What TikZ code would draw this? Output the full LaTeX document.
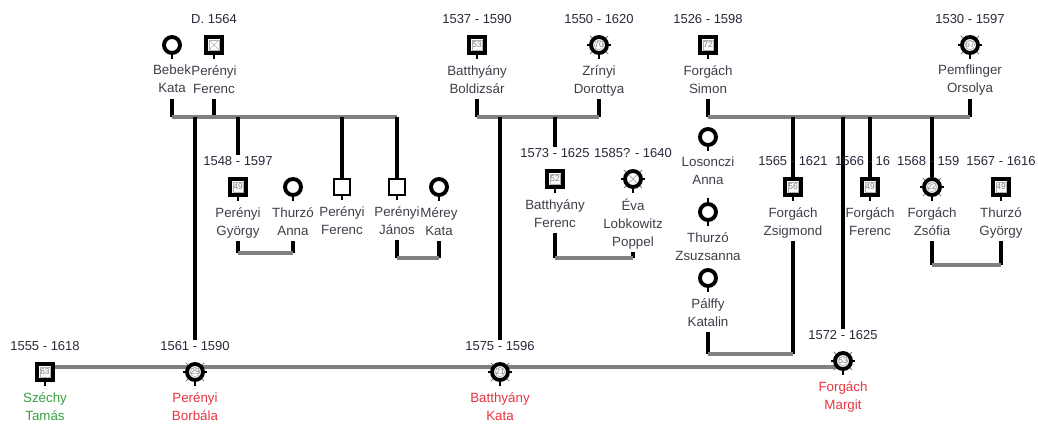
\documentclass[tikz,border=0pt]{standalone}
\usepackage{fontspec}
\setmainfont{Liberation Sans}
\usetikzlibrary{positioning, backgrounds}

\definecolor{namegray}{RGB}{62,62,74}
\definecolor{dategray}{RGB}{40,40,58}
\definecolor{bargray}{RGB}{128,128,128}
\definecolor{heirred}{RGB}{232,52,64}
\definecolor{heirgreen}{RGB}{56,158,64}

\begin{document}
\begin{tikzpicture}[
        x=0.02cm, y=-0.02cm,
        node distance=0.2cm,
        male/.style={rectangle, draw, fill=white, line width=2.2pt, minimum size=0.32cm, inner sep=0pt, text=gray, font=\fontsize{4.8}{5}\selectfont},
        female/.style={circle, draw, fill=white, line width=2.2pt, minimum size=0.32cm, inner sep=0pt, text=gray, font=\fontsize{4.8}{5}\selectfont},
        pname/.style={align=center, inner sep=0pt, text=namegray, font=\fontsize{7.6}{10.2}\selectfont, execute at begin node=\strut, execute at end node=\strut},
        pdate/.style={inner sep=0.5pt, text=dategray, font=\fontsize{7.4}{9}\selectfont}
    ]

    \tikzset{
    inbox/.style={line width=0.35pt, gray!60},
    kid/.style={line width=2pt, black},
    bar/.style={line width=1.9pt, bargray},
    stub/.style={line width=1.4pt},
    tick/.style={line width=0.45pt, gray},
    nub/.style={line width=1.4pt}
}

    \useasboundingbox (0,0) rectangle (1038,426);

    \coordinate (topBar) at (0,117);
    \coordinate (perBar) at (0,253);
    \coordinate (janBar) at (0,258);
    \coordinate (evaBar) at (0,258);
    \coordinate (thuBar) at (0,265);
    \coordinate (palBar) at (0,354);
    \coordinate (mainBar) at (0,367);

    \node[female] (bebek) at (172,45) {};
    \node[pname, below=of bebek] (bebekN) {Bebek\\Kata};
    \node[male] (pferenc) at (214,45) {};
    \node[pdate, above=of pferenc] (pferencD) {D. 1564};
    \node[pname, below=of pferenc] (pferencN) {Perényi\\Ferenc};

    \node[male] (bbold) at (477,45) {53};
    \node[pdate, above=of bbold] (bboldD) {1537 - 1590};
    \node[pname, below=of bbold] (bboldN) {Batthyány\\Boldizsár};
    \node[female] (zrinyi) at (599,45) {70};
    \node[pdate, above=of zrinyi] (zrinyiD) {1550 - 1620};
    \node[pname, below=of zrinyi] (zrinyiN) {Zrínyi\\Dorottya};

    \node[male] (fsimon) at (708,45) {72};
    \node[pdate, above=of fsimon] (fsimonD) {1526 - 1598};
    \node[pname, below=of fsimon] (fsimonN) {Forgách\\Simon};
    \node[female] (pemfl) at (970,45) {67};
    \node[pdate, above=of pemfl] (pemflD) {1530 - 1597};
    \node[pname, below=of pemfl] (pemflN) {Pemflinger\\Orsolya};

    \node[male] (pgyorgy) at (238,187) {49};
    \node[pdate, above=of pgyorgy] (pgyorgyD) {1548 - 1597};
    \node[pname, below=of pgyorgy] (pgyorgyN) {Perényi\\György};
    \node[female] (tanna) at (293,187) {};
    \node[pname, below=of tanna] (tannaN) {Thurzó\\Anna};
    \node[male, line width=1.5pt] (pferenc2) at (342,187) {};
    \node[pname, below=of pferenc2] (pferenc2N) {Perényi\\Ferenc};
    \node[male, line width=1.5pt] (pjanos) at (397,187) {};
    \node[pname, below=of pjanos] (pjanosN) {Perényi\\János};
    \node[female] (merey) at (439,187) {};
    \node[pname, below=of merey] (mereyN) {Mérey\\Kata};

    \node[male] (bferenc) at (555,179) {52};
    \node[pdate, above=of bferenc] (bferencD) {1573 - 1625};
    \node[pname, below=of bferenc] (bferencN) {Batthyány\\Ferenc};
    \node[female] (eva) at (633,179) {};
    \node[pdate, above=of eva] (evaD) {1585? - 1640};
    \node[pname, below=of eva] (evaN) {Éva\\Lobkowitz\\Poppel};

    \node[female] (losonczi) at (708,137) {};
    \node[pname, below=of losonczi] (losoncziN) {Losonczi\\Anna};
    \node[female] (zsuzsa) at (708,212) {};
    \node[pname, below=of zsuzsa] (zsuzsaN) {Thurzó\\Zsuzsanna};
    \node[female] (palffy) at (708,278) {};
    \node[pname, below=of palffy] (palffyN) {Pálffy\\Katalin};

    \node[male] (zsigmond) at (793,187) {56};
    \node[pdate, above=of zsigmond] (zsigmondD) {1565 - 1621};
    \node[pname, below=of zsigmond] (zsigmondN) {Forgách\\Zsigmond};
    \node[male] (fferenc) at (870,187) {49};
    \node[pdate, above=of fferenc, xshift=-0.146cm] (fferencD) {1566 - 16};
    \node[pname, below=of fferenc] (fferencN) {Forgách\\Ferenc};
    \node[female] (zsofia) at (932,187) {22};
    \node[pdate, above=of zsofia, xshift=-0.074cm] (zsofiaD) {1568 - 159};
    \node[pname, below=of zsofia] (zsofiaN) {Forgách\\Zsófia};
    \node[male] (tgyorgy) at (1001,187) {49};
    \node[pdate, above=of tgyorgy] (tgyorgyD) {1567 - 1616};
    \node[pname, below=of tgyorgy] (tgyorgyN) {Thurzó\\György};

    \node[male] (szechy) at (45,372) {63};
    \node[pdate, above=of szechy] (szechyD) {1555 - 1618};
    \node[pname, below=of szechy, text=heirgreen] (szechyN) {Széchy\\Tamás};
    \node[female] (borbala) at (195,372) {29};
    \node[pdate, above=of borbala] (borbalaD) {1561 - 1590};
    \node[pname, below=of borbala, text=heirred] (borbalaN) {Perényi\\Borbála};
    \node[female] (bkata) at (500,372) {21};
    \node[pdate, above=of bkata] (bkataD) {1575 - 1596};
    \node[pname, below=of bkata, text=heirred] (bkataN) {Batthyány\\Kata};
    \node[female] (margit) at (843,361) {53};
    \node[pdate, above=of margit] (margitD) {1572 - 1625};
    \node[pname, below=of margit, text=heirred] (margitN) {Forgách\\Margit};

    \foreach \p in {bebek,pferenc,bbold,zrinyi,fsimon,pemfl,pgyorgy,tanna,pferenc2,pjanos,merey,bferenc,eva,losonczi,zsuzsa,palffy,zsigmond,fferenc,zsofia,tgyorgy,szechy,borbala,bkata,margit}
        \draw[stub] (\p.south) -- ++(0,4);
    \draw[stub] (zsuzsa.north) -- ++(0,-4);

    \foreach \p in {pferenc,bbold,fsimon,pgyorgy,bferenc,zsigmond,fferenc,tgyorgy,szechy}
        \draw[inbox] ([shift={(0.1cm,0.1cm)}]\p.south west) rectangle ([shift={(-0.1cm,-0.1cm)}]\p.north east);
    \draw[inbox] ([shift={(0.1cm,0.1cm)}]pferenc.south west) -- ([shift={(-0.1cm,-0.1cm)}]pferenc.north east)
        ([shift={(0.1cm,-0.1cm)}]pferenc.north west) -- ([shift={(-0.1cm,0.1cm)}]pferenc.south east);

    \foreach \p in {zrinyi,pemfl,zsofia,borbala,bkata,margit}
        \draw[inbox] (\p) circle (0.095cm);
    \draw[inbox, line width=0.5pt] (eva) +(45:0.11cm) -- +(225:0.11cm) +(135:0.11cm) -- +(315:0.11cm);

    \foreach \p in {zrinyi,pemfl,eva,zsofia,borbala,bkata,margit} {
        \foreach \a in {45,135,225,315}
            \draw[tick] (\p.\a) -- ++(\a:0.06cm);
        \draw[nub] (\p.east) -- ++(0.04cm,0);
        \draw[nub] (\p.west) -- ++(-0.04cm,0);
    }

    \begin{scope}[on background layer]
    \draw[bar] (szechy |- mainBar) -- (margit |- mainBar);

    \draw[kid] (bebekN.south) -- (bebekN.south |- topBar);
    \draw[kid] (pferencN.south) -- (pferencN.south |- topBar);
    \draw[bar] (bebekN.south |- topBar) -- (pjanos |- topBar);
    \draw[kid] (borbalaD |- topBar) -- (borbalaD.north);
    \draw[kid] (pgyorgyD |- topBar) -- (pgyorgyD.north);
    \draw[kid] (pferenc2 |- topBar) -- (pferenc2.north);
    \draw[kid] (pjanos |- topBar) -- (pjanos.north);

    \draw[kid] (bboldN.south) -- (bboldN.south |- topBar);
    \draw[kid] (zrinyiN.south) -- (zrinyiN.south |- topBar);
    \draw[bar] (bboldN.south |- topBar) -- (zrinyiN.south |- topBar);
    \draw[kid] (bkataD |- topBar) -- (bkataD.north);
    \draw[kid] (bferencD |- topBar) -- (bferencD.north);

    \draw[kid] (fsimonN.south) -- (fsimonN.south |- topBar);
    \draw[kid] (pemflN.south) -- (pemflN.south |- topBar);
    \draw[bar] (fsimonN.south |- topBar) -- (pemflN.south |- topBar);
    \draw[kid] (zsigmond |- topBar) -- (zsigmond.north);
    \draw[kid] (margit |- topBar) -- (margitD.north);
    \draw[kid] (fferenc |- topBar) -- (fferenc.north);
    \draw[kid] (zsofia |- topBar) -- (zsofia.north);

    \draw[kid] (pgyorgyN.south) -- (pgyorgyN.south |- perBar);
    \draw[kid] (tannaN.south) -- (tannaN.south |- perBar);
    \draw[bar] (pgyorgyN.south |- perBar) -- (tannaN.south |- perBar);

    \draw[kid] (pjanosN.south) -- (pjanosN.south |- janBar);
    \draw[kid] (mereyN.south) -- (mereyN.south |- janBar);
    \draw[bar] (pjanosN.south |- janBar) -- (mereyN.south |- janBar);

    \draw[kid] (bferencN.south) -- (bferencN.south |- evaBar);
    \draw[kid] (evaN.south) -- (evaN.south |- evaBar);
    \draw[bar] (bferencN.south |- evaBar) -- (evaN.south |- evaBar);

    \draw[kid] (zsofiaN.south) -- (zsofiaN.south |- thuBar);
    \draw[kid] (tgyorgyN.south) -- (tgyorgyN.south |- thuBar);
    \draw[bar] (zsofiaN.south |- thuBar) -- (tgyorgyN.south |- thuBar);

    \draw[kid] (palffyN.south) -- (palffyN.south |- palBar);
    \draw[kid] (zsigmondN.south) -- (zsigmondN.south |- palBar);
    \draw[bar] (palffyN.south |- palBar) -- (zsigmondN.south |- palBar);
    \end{scope}
    \end{tikzpicture}
\end{document}
